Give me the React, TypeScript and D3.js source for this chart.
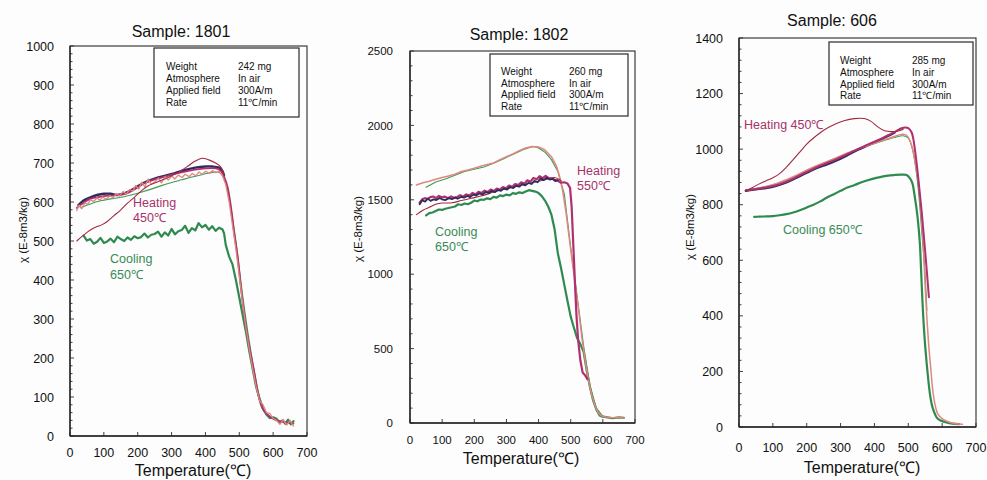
import React from 'react';
import * as d3 from 'd3';

type Pt = [number, number];

// ---------- Sample 1801 ----------
const s1801Heat450: Pt[] = [[20,500],[40,515],[60,528],[80,537],[95,542],[110,550],[130,565],[150,580],[170,597],[190,612],[210,628],[230,641],[260,652],[290,663],[320,676],[350,693],[370,705],[390,712],[410,708],[430,700],[445,690],[455,670]];
const s1801Cool450: Pt[] = [[455,668],[450,680],[440,688],[420,691],[400,691],[370,688],[340,682],[310,674],[280,667],[250,660],[220,650],[200,640],[180,630],[160,622],[140,618],[120,621],[100,621],[80,618],[60,612],[40,604],[25,592]];
const s1801Heat650: Pt[] = [[20,585],[40,598],[60,608],[80,612],[100,615],[130,617],[160,620],[190,632],[220,648],[250,658],[280,665],[310,672],[340,678],[370,683],[400,686],[430,686],[445,680],[455,665],[465,640],[475,590],[485,520],[495,460],[505,380],[515,310],[525,250],[535,205],[545,160],[555,110],[565,78],[575,62],[590,50],[610,40],[630,36],[660,32]];
const s1801Pink: Pt[] = [[20,578],[27,592],[35,583],[44,598],[52,594],[61,606],[70,601],[80,611],[88,604],[97,613],[106,607],[118,616],[127,611],[138,622],[146,615],[157,627],[166,620],[176,632],[185,628],[194,642],[203,633],[212,651],[221,639],[231,659],[240,645],[251,652],[261,661],[270,649],[281,665],[290,656],[301,667],[309,659],[320,669],[331,663],[340,671],[352,665],[361,673],[372,667],[381,677],[390,671],[401,679],[411,673],[421,681],[431,675],[440,679],[450,668],[460,645],[470,600],[480,540],[490,480],[500,410],[510,340],[520,275],[530,220],[540,170],[550,125],[560,90],[570,80],[580,60],[590,58],[600,45],[610,40],[620,30],[630,42],[640,28],[650,40],[660,25]];
const s1801ThinGreen: Pt[] = [[30,585],[60,595],[90,603],[120,608],[150,612],[180,618],[210,625],[240,633],[270,642],[300,650],[330,657],[360,664],[390,670],[420,676],[440,676],[455,660],[470,610],[490,500],[510,360],[530,240],[550,140],[565,85],[580,60]];
const s1801Cool650: Pt[] = [[660,38],[652,30],[644,42],[636,31],[628,40],[619,35],[610,44],[600,48],[590,46],[580,55],[570,70],[560,95],[550,125],[540,170],[530,215],[520,265],[510,310],[500,355],[490,400],[480,440],[470,460],[460,490],[455,520],[450,530],[440,534],[430,526],[420,538],[410,529],[400,541],[390,535],[380,546],[370,527],[360,533],[350,521],[340,539],[330,528],[320,525],[310,517],[300,531],[290,514],[280,522],[270,511],[260,524],[250,518],[240,516],[230,509],[220,519],[210,510],[200,507],[190,512],[180,503],[170,509],[160,500],[150,505],[140,511],[130,497],[120,506],[110,499],[100,495],[90,508],[80,498],[70,493],[60,505],[50,501],[40,514]];

// ---------- Sample 1802 ----------
const s1802Salmon: Pt[] = [[20,1600],[40,1615],[60,1625],[80,1638],[100,1650],[120,1660],[140,1672],[160,1690],[180,1700],[200,1712],[220,1725],[240,1738],[260,1748],[280,1770],[300,1790],[320,1808],[340,1830],[360,1848],[380,1858],[400,1855],[420,1835],[440,1790],[455,1730],[465,1660],[475,1560],[485,1420],[495,1250],[505,1080],[515,920],[525,750],[535,570],[545,420],[555,290],[565,190],[575,120],[585,70],[595,48],[610,40],[630,35],[650,38],[665,32]];
const s1802ThinGreen: Pt[] = [[50,1585],[80,1620],[110,1640],[140,1665],[170,1690],[200,1705],[230,1720],[260,1745],[290,1775],[320,1805],[350,1835],[370,1850],[385,1858],[400,1848],[420,1820],[440,1770],[460,1690],[480,1540],[500,1180],[520,850],[540,520],[560,250],[580,100],[600,45]];
const s1802Navy: Pt[] = [[30,1470],[38,1497],[47,1488],[55,1508],[64,1493],[73,1503],[82,1498],[92,1512],[101,1502],[111,1498],[120,1511],[131,1504],[140,1516],[148,1507],[159,1519],[168,1514],[178,1526],[187,1518],[197,1535],[206,1529],[215,1543],[225,1536],[236,1552],[245,1546],[254,1559],[264,1551],[273,1567],[283,1560],[292,1575],[302,1569],[311,1586],[321,1579],[330,1594],[340,1588],[349,1605],[359,1597],[368,1614],[378,1606],[387,1627],[397,1618],[406,1644],[416,1632],[425,1648],[435,1636],[444,1640],[452,1626],[460,1632]];
const s1802Magenta: Pt[] = [[30,1480],[38,1503],[46,1511],[55,1505],[63,1518],[72,1522],[81,1511],[90,1526],[99,1517],[109,1521],[118,1510],[128,1523],[137,1512],[147,1519],[156,1531],[166,1521],[175,1536],[185,1528],[194,1546],[204,1537],[213,1553],[223,1546],[232,1561],[242,1553],[251,1569],[261,1559],[270,1576],[280,1568],[289,1586],[299,1578],[308,1596],[318,1587],[327,1606],[337,1599],[346,1617],[356,1608],[365,1631],[375,1622],[384,1647],[394,1638],[403,1659],[413,1645],[422,1660],[432,1646],[441,1645],[450,1635],[460,1628],[470,1615],[480,1618],[490,1610],[498,1580],[503,1450],[508,1200],[513,950],[518,720],[523,560],[530,420],[537,340],[545,320],[552,295]];
const s1802Red: Pt[] = [[20,1400],[40,1430],[60,1450],[80,1470],[100,1478],[130,1480],[160,1495],[190,1510],[220,1525],[250,1545],[280,1565],[310,1580],[340,1595],[370,1610],[400,1625],[430,1640],[450,1650],[470,1630]];
const s1802Cool650: Pt[] = [[665,35],[650,38],[630,32],[610,40],[595,45],[590,50],[580,90],[570,150],[560,240],[550,350],[540,480],[530,530],[520,570],[510,640],[500,715],[490,820],[480,930],[470,1040],[460,1140],[450,1300],[440,1400],[430,1455],[420,1495],[410,1525],[400,1545],[390,1555],[380,1560],[370,1565],[360,1555],[350,1545],[340,1550],[330,1540],[320,1545],[310,1530],[300,1535],[290,1525],[280,1530],[270,1515],[260,1520],[250,1505],[240,1510],[230,1500],[220,1502],[210,1490],[200,1495],[190,1480],[180,1470],[170,1475],[160,1465],[150,1470],[140,1455],[130,1450],[120,1445],[110,1440],[100,1432],[90,1435],[80,1425],[70,1415],[60,1410],[50,1395]];

// ---------- Sample 606 ----------
const s606Heat450: Pt[] = [[20,850],[40,862],[60,875],[80,886],[100,897],[120,912],[140,935],[160,962],[180,990],[200,1018],[220,1040],[250,1068],[280,1088],[310,1102],[340,1110],[370,1110],[390,1100],[410,1080],[430,1066],[450,1063],[470,1065],[485,1072]];
const s606Navy: Pt[] = [[20,850],[50,855],[80,860],[110,868],[140,880],[170,897],[200,915],[230,932],[260,945],[290,960],[320,978],[350,997],[380,1013],[410,1030],[440,1047],[460,1060]];
const s606Magenta: Pt[] = [[20,852],[50,857],[80,862],[110,870],[140,883],[170,900],[200,918],[230,935],[260,950],[290,965],[320,982],[350,1000],[380,1016],[410,1032],[440,1050],[460,1062],[480,1075],[490,1078],[500,1076],[510,1060],[520,995],[530,890],[540,770],[550,630],[561,467]];
const s606Pink: Pt[] = [[20,852],[50,858],[80,866],[110,876],[140,890],[170,906],[200,924],[230,940],[260,955],[290,970],[320,986],[350,1000],[380,1013],[410,1025],[440,1038],[470,1050],[485,1054],[495,1050],[505,1030],[515,990],[522,940],[530,880],[540,730],[545,640],[550,500],[555,390],[560,300],[565,230],[573,125],[580,75],[587,47],[600,30],[620,18],[640,12],[660,10]];
const s606ThinGreen: Pt[] = [[20,850],[60,860],[100,872],[140,888],[180,910],[220,935],[260,955],[300,975],[340,995],[380,1012],[420,1028],[460,1042],[485,1048],[500,1040],[510,1010],[520,950],[530,850],[540,700],[550,540],[555,420]];
const s606Cool650: Pt[] = [[650,10],[630,12],[608,18],[587,30],[573,65],[565,110],[558,183],[550,290],[543,424],[538,560],[534,664],[527,760],[519,830],[512,878],[505,895],[495,907],[480,908],[460,907],[440,905],[420,900],[400,895],[380,888],[360,880],[340,870],[320,862],[300,850],[280,838],[260,826],[240,812],[220,800],[200,790],[180,780],[160,772],[140,766],[120,762],[100,759],[80,758],[60,757],[45,756]];

// ---------- ticks & labels ----------
const xTicks = [0, 100, 200, 300, 400, 500, 600, 700];
const yTicks1801 = [0, 100, 200, 300, 400, 500, 600, 700, 800, 900, 1000];
const yTicks1802 = [0, 500, 1000, 1500, 2000, 2500];
const yTicks606 = [0, 200, 400, 600, 800, 1000, 1200, 1400];
const infoLabels = ['Weight', 'Atmosphere', 'Applied field', 'Rate'];
const info1801 = ['242 mg', 'In air', '300A/m', '11\u2103/min'];
const info1802 = ['260 mg', 'In air', '300A/m', '11\u2103/min'];
const info606 = ['285 mg', 'In air', '300A/m', '11\u2103/min'];

const C = {
  red: '#a3283e',
  magenta: '#b0306f',
  navy: '#2d2c5e',
  green: '#2f8a50',
  thinGreen: '#3f9a5c',
  salmon: '#e0877e',
  heatLabel: '#a8306c',
  coolLabel: '#3a8a56',
  axis: '#2a2a2a',
};

const SANS = '"Liberation Sans", Arial, sans-serif';

type Series = { data: Pt[]; color: string; width: number; smooth?: boolean };
type Note = { text: string; x: number; y: number; color: string };
type Layout = {
  x0: number; x1: number; yTop: number; yBot: number;
  title: string; titleX: number; titleY: number;
  yMax: number; minor: number; yTicks: number[]; tickFont: number;
  yLabelRight: number; xLabelY: number; xTitleX: number; xTitleY: number;
  yTitleX: number; yTitleY: number;
  box: { x: number; y: number; w: number; h: number; c1: number; c2: number; y0: number; dy: number };
  info: string[];
  series: Series[];
  notes: Note[];
};

function Panel({ p }: { p: Layout }) {
  const x = d3.scaleLinear().domain([0, 700]).range([p.x0, p.x1]);
  const y = d3.scaleLinear().domain([0, p.yMax]).range([p.yBot, p.yTop]);
  const minors = d3.range(0, p.yMax + 0.001, p.minor);
  return (
    <g>
      <text x={p.titleX} y={p.titleY} textAnchor="middle" fontFamily={SANS} fontSize={16} fill="#111">{p.title}</text>
      <rect x={p.x0} y={p.yTop} width={p.x1 - p.x0} height={p.yBot - p.yTop} fill="none" stroke={C.axis} strokeWidth={1.1} />
      <line x1={p.x0} x2={p.x1} y1={p.yBot} y2={p.yBot} stroke={C.axis} strokeWidth={1.6} />
      <line x1={p.x0} x2={p.x0} y1={p.yTop} y2={p.yBot} stroke={C.axis} strokeWidth={1.4} />
      {minors.map((v, i) => (
        <line key={'m' + i} x1={p.x0} x2={p.x0 + (p.yTicks.includes(Math.round(v)) ? 4 : 2.5)} y1={y(v)} y2={y(v)} stroke={C.axis} strokeWidth={0.9} />
      ))}
      {xTicks.map((t) => (
        <line key={'xt' + t} x1={x(t)} x2={x(t)} y1={p.yBot} y2={p.yBot - 4} stroke={C.axis} strokeWidth={0.9} />
      ))}
      {p.yTicks.map((t) => (
        <text key={'yl' + t} x={p.yLabelRight} y={y(t) + p.tickFont * 0.36} textAnchor="end" fontFamily={SANS} fontSize={p.tickFont} fill="#111">{t}</text>
      ))}
      {xTicks.map((t) => (
        <text key={'xl' + t} x={x(t)} y={p.xLabelY} textAnchor="middle" fontFamily={SANS} fontSize={p.tickFont} fill="#111">{t}</text>
      ))}
      <text x={p.xTitleX} y={p.xTitleY} textAnchor="middle" fontFamily={SANS} fontSize={16} fill="#111">Temperature(℃)</text>
      <text transform={`translate(${p.yTitleX},${p.yTitleY}) rotate(-90)`} textAnchor="middle" fontFamily={SANS} fontSize={11.5} fill="#111">χ (E-8m3/kg)</text>
      <rect x={p.box.x} y={p.box.y} width={p.box.w} height={p.box.h} fill="#fff" stroke={C.axis} strokeWidth={1.2} />
      {infoLabels.map((l, i) => (
        <text key={'ia' + i} x={p.box.c1} y={p.box.y0 + i * p.box.dy} fontFamily={SANS} fontSize={10} fill="#111">{l}</text>
      ))}
      {p.info.map((l, i) => (
        <text key={'ib' + i} x={p.box.c2} y={p.box.y0 + i * p.box.dy} fontFamily={SANS} fontSize={10} fill="#111">{l}</text>
      ))}
      {p.series.map((s, i) => {
        const gen = d3.line<Pt>().x((d) => x(d[0])).y((d) => y(d[1])).curve(s.smooth ? d3.curveCatmullRom : d3.curveLinear);
        return <path key={'s' + i} d={gen(s.data) || ''} fill="none" stroke={s.color} strokeWidth={s.width} strokeLinejoin="round" strokeLinecap="round" />;
      })}
      {p.notes.map((n, i) => (
        <text key={'n' + i} x={n.x} y={n.y} fontFamily={SANS} fontSize={12.5} fill={n.color}>{n.text}</text>
      ))}
    </g>
  );
}

const panels: Layout[] = [
  {
    x0: 70, x1: 307, yTop: 46, yBot: 436, title: 'Sample: 1801', titleX: 181, titleY: 37,
    yMax: 1000, minor: 20, yTicks: yTicks1801, tickFont: 12.5, yLabelRight: 54, xLabelY: 457, xTitleX: 193, xTitleY: 476,
    yTitleX: 27, yTitleY: 230,
    box: { x: 154, y: 48, w: 145, h: 69, c1: 166, c2: 238, y0: 70, dy: 12 },
    info: info1801,
    series: [
      { data: s1801Cool650, color: C.green, width: 2.2 },
      { data: s1801ThinGreen, color: C.thinGreen, width: 1.1, smooth: true },
      { data: s1801Cool450, color: C.navy, width: 2.4, smooth: true },
      { data: s1801Heat650, color: C.magenta, width: 1.8, smooth: true },
      { data: s1801Pink, color: C.salmon, width: 1.3 },
      { data: s1801Heat450, color: C.red, width: 1.1, smooth: true },
    ],
    notes: [
      { text: 'Heating', x: 133, y: 207, color: C.heatLabel },
      { text: '450℃', x: 133, y: 222, color: C.heatLabel },
      { text: 'Cooling', x: 110, y: 263, color: C.coolLabel },
      { text: '650℃', x: 110, y: 279, color: C.coolLabel },
    ],
  },
  {
    x0: 410, x1: 635, yTop: 51, yBot: 423, title: 'Sample: 1802', titleX: 519, titleY: 40,
    yMax: 2500, minor: 100, yTicks: yTicks1802, tickFont: 11.5, yLabelRight: 393, xLabelY: 444, xTitleX: 521, xTitleY: 464,
    yTitleX: 362, yTitleY: 229,
    box: { x: 490, y: 54, w: 138, h: 62, c1: 501, c2: 569, y0: 75, dy: 11.5 },
    info: info1802,
    series: [
      { data: s1802Cool650, color: C.green, width: 2.2 },
      { data: s1802ThinGreen, color: C.thinGreen, width: 1.1 },
      { data: s1802Salmon, color: C.salmon, width: 1.5 },
      { data: s1802Red, color: C.red, width: 1.1, smooth: true },
      { data: s1802Magenta, color: C.magenta, width: 2.2 },
      { data: s1802Navy, color: C.navy, width: 1.8 },
    ],
    notes: [
      { text: 'Heating', x: 577, y: 175, color: C.heatLabel },
      { text: '550℃', x: 577, y: 190, color: C.heatLabel },
      { text: 'Cooling', x: 435, y: 236, color: C.coolLabel },
      { text: '650℃', x: 435, y: 251, color: C.coolLabel },
    ],
  },
  {
    x0: 739, x1: 976, yTop: 38, yBot: 427, title: 'Sample: 606', titleX: 832, titleY: 26,
    yMax: 1400, minor: 40, yTicks: yTicks606, tickFont: 12.5, yLabelRight: 723, xLabelY: 452, xTitleX: 862, xTitleY: 473,
    yTitleX: 694, yTitleY: 227,
    box: { x: 829, y: 42, w: 144, h: 63, c1: 840, c2: 912, y0: 64, dy: 11.8 },
    info: info606,
    series: [
      { data: s606Cool650, color: C.green, width: 2.2, smooth: true },
      { data: s606ThinGreen, color: C.thinGreen, width: 1.1, smooth: true },
      { data: s606Navy, color: C.navy, width: 2.2, smooth: true },
      { data: s606Pink, color: C.salmon, width: 1.5, smooth: true },
      { data: s606Magenta, color: C.magenta, width: 2.0, smooth: true },
      { data: s606Heat450, color: C.red, width: 1.1, smooth: true },
    ],
    notes: [
      { text: 'Heating 450℃', x: 744, y: 129, color: C.heatLabel },
      { text: 'Cooling 650℃', x: 783, y: 234, color: C.coolLabel },
    ],
  },
];

export default function App() {
  return (
    <svg width={987} height={480} viewBox="0 0 987 480" style={{ position: 'absolute', left: 0, top: 0, background: '#fcfdfc' }}>
      <rect x={0} y={0} width={987} height={480} fill="#fcfdfc" />
      {panels.map((p, i) => <Panel key={i} p={p} />)}
    </svg>
  );
}
